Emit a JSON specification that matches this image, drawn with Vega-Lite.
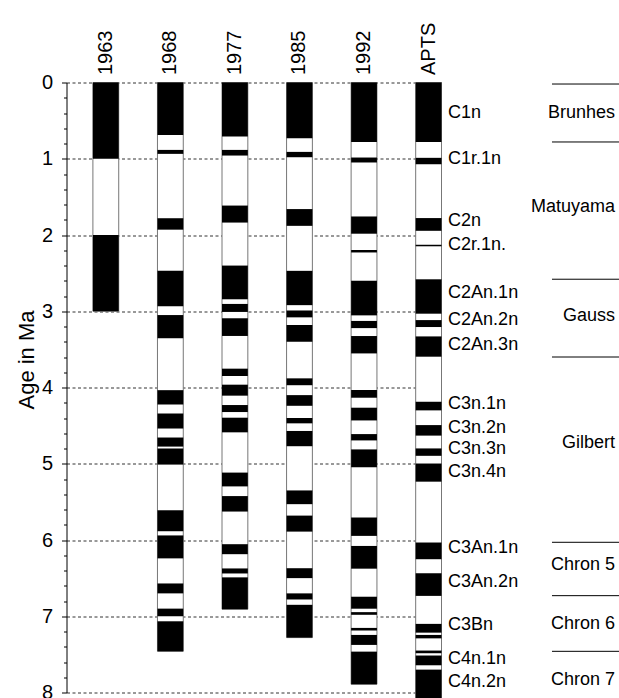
{
  "$schema": "https://vega.github.io/schema/vega-lite/v6.json",
  "width": 375,
  "height": 610,
  "autosize": {"type": "none"},
  "padding": {"left": 66.5, "top": 82.5, "right": 177.5, "bottom": 5.5},
  "background": "white",
  "config": {"view": {"stroke": null}, "font": "Liberation Sans"},
  "datasets": {
    "columns": [
      {"col": "1963", "start": 0, "end": 3.0},
      {"col": "1968", "start": 0, "end": 7.46},
      {"col": "1977", "start": 0, "end": 6.908},
      {"col": "1985", "start": 0, "end": 7.28},
      {"col": "1992", "start": 0, "end": 7.892},
      {"col": "APTS", "start": 0, "end": 8.108}
    ],
    "normal": [
      {"col": "1963", "start": 0, "end": 1.0},
      {"col": "1963", "start": 2.0, "end": 3.0},
      {"col": "1968", "start": 0, "end": 0.69},
      {"col": "1968", "start": 0.884, "end": 0.936},
      {"col": "1968", "start": 1.78, "end": 1.93},
      {"col": "1968", "start": 2.47, "end": 2.935},
      {"col": "1968", "start": 3.05, "end": 3.354},
      {"col": "1968", "start": 4.035, "end": 4.223},
      {"col": "1968", "start": 4.341, "end": 4.538},
      {"col": "1968", "start": 4.656, "end": 4.775},
      {"col": "1968", "start": 4.8, "end": 5.011},
      {"col": "1968", "start": 5.61, "end": 5.885},
      {"col": "1968", "start": 5.94, "end": 6.241},
      {"col": "1968", "start": 6.57, "end": 6.7},
      {"col": "1968", "start": 6.9, "end": 7.0},
      {"col": "1968", "start": 7.066, "end": 7.46},
      {"col": "1977", "start": 0, "end": 0.709},
      {"col": "1977", "start": 0.884, "end": 0.958},
      {"col": "1977", "start": 1.614, "end": 1.837},
      {"col": "1977", "start": 2.401, "end": 2.843},
      {"col": "1977", "start": 2.904, "end": 3.009},
      {"col": "1977", "start": 3.092, "end": 3.324},
      {"col": "1977", "start": 3.753, "end": 3.849},
      {"col": "1977", "start": 3.963, "end": 4.107},
      {"col": "1977", "start": 4.23, "end": 4.322},
      {"col": "1977", "start": 4.396, "end": 4.588},
      {"col": "1977", "start": 5.116, "end": 5.297},
      {"col": "1977", "start": 5.424, "end": 5.627},
      {"col": "1977", "start": 6.055, "end": 6.186},
      {"col": "1977", "start": 6.373, "end": 6.439},
      {"col": "1977", "start": 6.49, "end": 6.908},
      {"col": "1985", "start": 0, "end": 0.73},
      {"col": "1985", "start": 0.91, "end": 0.98},
      {"col": "1985", "start": 1.66, "end": 1.88},
      {"col": "1985", "start": 2.47, "end": 2.92},
      {"col": "1985", "start": 2.99, "end": 3.08},
      {"col": "1985", "start": 3.18, "end": 3.4},
      {"col": "1985", "start": 3.88, "end": 3.97},
      {"col": "1985", "start": 4.1, "end": 4.24},
      {"col": "1985", "start": 4.4, "end": 4.47},
      {"col": "1985", "start": 4.57, "end": 4.77},
      {"col": "1985", "start": 5.35, "end": 5.53},
      {"col": "1985", "start": 5.68, "end": 5.89},
      {"col": "1985", "start": 6.37, "end": 6.5},
      {"col": "1985", "start": 6.7, "end": 6.78},
      {"col": "1985", "start": 6.85, "end": 7.28},
      {"col": "1992", "start": 0, "end": 0.78},
      {"col": "1992", "start": 0.984, "end": 1.049},
      {"col": "1992", "start": 1.757, "end": 1.983},
      {"col": "1992", "start": 2.197, "end": 2.229},
      {"col": "1992", "start": 2.6, "end": 3.054},
      {"col": "1992", "start": 3.127, "end": 3.221},
      {"col": "1992", "start": 3.325, "end": 3.553},
      {"col": "1992", "start": 4.033, "end": 4.134},
      {"col": "1992", "start": 4.265, "end": 4.432},
      {"col": "1992", "start": 4.611, "end": 4.694},
      {"col": "1992", "start": 4.812, "end": 5.046},
      {"col": "1992", "start": 5.705, "end": 5.946},
      {"col": "1992", "start": 6.078, "end": 6.376},
      {"col": "1992", "start": 6.744, "end": 6.901},
      {"col": "1992", "start": 6.946, "end": 6.981},
      {"col": "1992", "start": 7.153, "end": 7.187},
      {"col": "1992", "start": 7.245, "end": 7.376},
      {"col": "1992", "start": 7.464, "end": 7.892},
      {"col": "APTS", "start": 0, "end": 0.781},
      {"col": "APTS", "start": 0.988, "end": 1.072},
      {"col": "APTS", "start": 1.778, "end": 1.945},
      {"col": "APTS", "start": 2.128, "end": 2.148},
      {"col": "APTS", "start": 2.581, "end": 3.032},
      {"col": "APTS", "start": 3.116, "end": 3.207},
      {"col": "APTS", "start": 3.33, "end": 3.596},
      {"col": "APTS", "start": 4.187, "end": 4.3},
      {"col": "APTS", "start": 4.493, "end": 4.631},
      {"col": "APTS", "start": 4.799, "end": 4.896},
      {"col": "APTS", "start": 4.997, "end": 5.235},
      {"col": "APTS", "start": 6.033, "end": 6.252},
      {"col": "APTS", "start": 6.436, "end": 6.733},
      {"col": "APTS", "start": 7.1, "end": 7.215},
      {"col": "APTS", "start": 7.245, "end": 7.29},
      {"col": "APTS", "start": 7.45, "end": 7.485},
      {"col": "APTS", "start": 7.515, "end": 7.643},
      {"col": "APTS", "start": 7.7, "end": 8.108}
    ],
    "chrons": [
      {"col": "APTS", "label": "C1n", "age": 0.4},
      {"col": "APTS", "label": "C1r.1n", "age": 1.0},
      {"col": "APTS", "label": "C2n", "age": 1.82},
      {"col": "APTS", "label": "C2r.1n.", "age": 2.13},
      {"col": "APTS", "label": "C2An.1n", "age": 2.76},
      {"col": "APTS", "label": "C2An.2n", "age": 3.12},
      {"col": "APTS", "label": "C2An.3n", "age": 3.44},
      {"col": "APTS", "label": "C3n.1n", "age": 4.21},
      {"col": "APTS", "label": "C3n.2n", "age": 4.53},
      {"col": "APTS", "label": "C3n.3n", "age": 4.81},
      {"col": "APTS", "label": "C3n.4n", "age": 5.11},
      {"col": "APTS", "label": "C3An.1n", "age": 6.11},
      {"col": "APTS", "label": "C3An.2n", "age": 6.55},
      {"col": "APTS", "label": "C3Bn", "age": 7.12},
      {"col": "APTS", "label": "C4n.1n", "age": 7.56},
      {"col": "APTS", "label": "C4n.2n", "age": 7.86}
    ],
    "eras": [
      {"col": "APTS", "label": "Brunhes", "age": 0.4},
      {"col": "APTS", "label": "Matuyama", "age": 1.63},
      {"col": "APTS", "label": "Gauss", "age": 3.06},
      {"col": "APTS", "label": "Gilbert", "age": 4.73},
      {"col": "APTS", "label": "Chron 5", "age": 6.33},
      {"col": "APTS", "label": "Chron 6", "age": 7.1},
      {"col": "APTS", "label": "Chron 7", "age": 7.84}
    ],
    "boundaries": [
      {"col": "APTS", "age": 0.02},
      {"col": "APTS", "age": 0.78},
      {"col": "APTS", "age": 2.58},
      {"col": "APTS", "age": 3.6},
      {"col": "APTS", "age": 6.03},
      {"col": "APTS", "age": 6.73},
      {"col": "APTS", "age": 7.46}
    ]
  },
  "resolve": {"axis": {"y": "independent"}},
  "layer": [
    {
      "data": {"name": "columns"},
      "mark": {"type": "bar", "fill": "white", "stroke": "#777", "strokeWidth": 1},
      "encoding": {
        "x": {
          "field": "col", "type": "nominal",
          "scale": {"domain": ["1963", "1968", "1977", "1985", "1992", "APTS"], "paddingInner": 0.6, "paddingOuter": 0.2045, "align": 1},
          "axis": {"orient": "top", "title": null, "domain": false, "ticks": false, "labelAngle": 270, "labelFontSize": 20, "labelPadding": 8, "labelColor": "black", "labelFont": "Liberation Sans"}
        },
        "y": {
          "field": "start", "type": "quantitative",
          "scale": {"domain": [0, 8], "reverse": true, "nice": false, "zero": false},
          "axis": {
            "orient": "left", "values": [0, 1, 2, 3, 4, 5, 6, 7, 8], "format": "d",
            "grid": true, "gridDash": [3, 2.5], "gridColor": "#333", "gridWidth": 1,
            "domainColor": "black", "tickColor": "black", "tickSize": 5,
            "labelFontSize": 20, "labelPadding": 9, "labelColor": "black", "labelFont": "Liberation Sans",
            "title": "Age in Ma", "titleFontSize": 22, "titleFontWeight": "normal", "titleColor": "black", "titleFont": "Liberation Sans",
            "titleAngle": -90, "titleX": -33, "titleY": 277, "titleAlign": "center", "titleBaseline": "alphabetic"
          }
        },
        "y2": {"field": "end"}
      }
    },
    {
      "data": {"name": "normal"},
      "mark": {"type": "bar", "fill": "black", "strokeWidth": 0},
      "encoding": {
        "x": {"field": "col", "type": "nominal"},
        "y": {
          "field": "start", "type": "quantitative",
          "axis": {"orient": "left", "values": [0.2, 0.4, 0.6, 0.8, 1.2, 1.4, 1.6, 1.8, 2.2, 2.4, 2.6, 2.8, 3.2, 3.4, 3.6, 3.8, 4.2, 4.4, 4.6, 4.8, 5.2, 5.4, 5.6, 5.8, 6.2, 6.4, 6.6, 6.8, 7.2, 7.4, 7.6, 7.8], "labels": false, "grid": false, "domain": false, "tickSize": 3, "tickColor": "black", "title": null}
        },
        "y2": {"field": "end"}
      }
    },
    {
      "data": {"name": "chrons"},
      "mark": {"type": "text", "align": "left", "baseline": "middle", "dx": 19.5, "fontSize": 18, "font": "Liberation Sans", "color": "black"},
      "encoding": {
        "x": {"field": "col", "type": "nominal"},
        "y": {"field": "age", "type": "quantitative", "axis": null},
        "text": {"field": "label"}
      }
    },
    {
      "data": {"name": "eras"},
      "mark": {"type": "text", "align": "right", "baseline": "middle", "dx": 186.5, "fontSize": 18, "font": "Liberation Sans", "color": "black"},
      "encoding": {
        "x": {"field": "col", "type": "nominal"},
        "y": {"field": "age", "type": "quantitative", "axis": null},
        "text": {"field": "label"}
      }
    },
    {
      "data": {"name": "boundaries"},
      "mark": {"type": "rule", "color": "black", "strokeWidth": 1, "xOffset": 123.4, "x2Offset": 191},
      "encoding": {
        "x": {"field": "col", "type": "nominal"},
        "x2": {"field": "col"},
        "y": {"field": "age", "type": "quantitative", "axis": null}
      }
    }
  ]
}
